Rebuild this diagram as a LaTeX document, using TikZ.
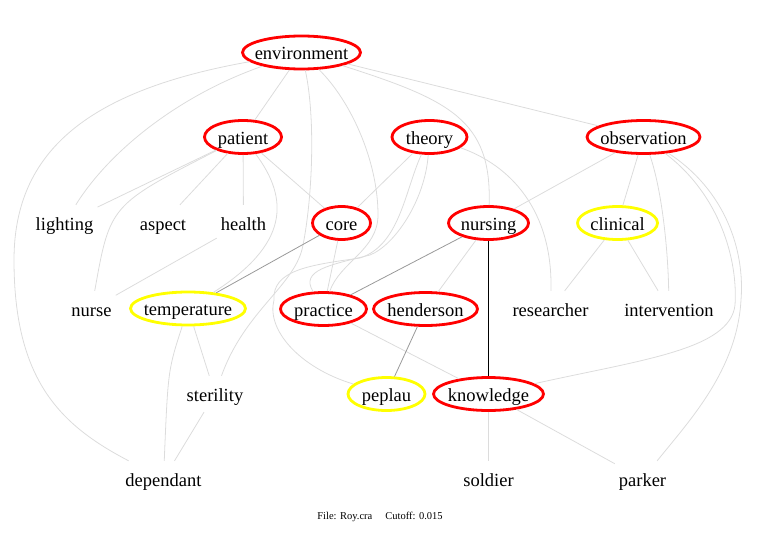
\documentclass[tikz,border=0pt]{standalone}
\usepackage{fontspec}
\setmainfont{Liberation Serif}
\usetikzlibrary{shapes.geometric}
\definecolor{lg}{HTML}{DCDCDC}
\definecolor{dg}{HTML}{999999}
\definecolor{gvred}{HTML}{FF0000}
\definecolor{gvyel}{HTML}{FFFF00}
\newcommand{\lbl}[1]{\makebox[0pt]{#1}}
\begin{document}
\begin{tikzpicture}[x=1pt,y=-1pt,
  every node/.style={font=\fontsize{18.5}{20}\selectfont, text height=16pt, text depth=2pt, inner sep=0pt},
  ov/.style={ellipse, line width=2.8pt, minimum height=33pt},
  rn/.style={ov, draw=gvred},
  yn/.style={ov, draw=gvyel},
  pn/.style={rectangle, minimum height=36pt, inner xsep=4pt},
  ledge/.style={draw=lg, line width=0.8pt},
  dedge/.style={draw=dg, line width=0.8pt},
  bedge/.style={draw=black, line width=1pt}]
\useasboundingbox (0,0) rectangle (759,532);
% nodes
\node[rn, minimum width=118pt] (env) at (301.5,52.5) {\lbl{environment}};
\node[rn, minimum width=77pt] (pat) at (243,137) {\lbl{patient}};
\node[rn, minimum width=75pt] (theo) at (429.5,137) {\lbl{theory}};
\node[rn, minimum width=113pt] (obs) at (643.5,137) {\lbl{observation}};
\node[pn] (light) at (64.5,223) {lighting};
\node[pn] (asp) at (163,223) {aspect};
\node[pn] (hlth) at (243.5,223) {health};
\node[rn, minimum width=58pt] (core) at (341.5,223) {\lbl{core}};
\node[rn, minimum width=80pt] (nurs) at (488.5,223) {\lbl{nursing}};
\node[yn, minimum width=80pt] (clin) at (617.5,223) {\lbl{clinical}};
\node[pn] (nurse) at (91.5,309) {nurse};
\node[yn, minimum width=115pt] (temp) at (188,308.5) {\lbl{temperature}};
\node[rn, minimum width=86pt] (prac) at (323.5,309) {\lbl{practice}};
\node[rn, minimum width=104pt] (hend) at (425.5,309) {\lbl{henderson}};
\node[pn] (resr) at (550.5,309) {researcher};
\node[pn] (intv) at (669,309) {intervention};
\node[pn] (ster) at (215,394) {sterility};
\node[yn, minimum width=77pt] (pep) at (386.5,394) {\lbl{peplau}};
\node[rn, minimum width=110pt] (know) at (488.5,394) {\lbl{knowledge}};
\node[pn] (dep) at (163.5,479) {dependant};
\node[pn] (sold) at (488.5,479) {soldier};
\node[pn] (park) at (642.5,479) {parker};
\node[font=\fontsize{10.5}{12}\selectfont, text height=7pt, text depth=2pt] (cap) at (380,517) {File: Roy.cra\hspace{13pt}Cutoff: 0.015};
% edges from environment
\draw[ledge] (env) .. controls (90,90) and (14,150) .. (14,260) .. controls (14,380) and (60,425) .. (dep);
\draw[ledge] (env) .. controls (180,95) and (110,150) .. (light);
\draw[ledge] (env) -- (pat);
\draw[ledge] (env) .. controls (316,120) and (312,200) .. (303,245) .. controls (296,285) and (245,310) .. (ster);
\draw[ledge] (env) .. controls (350,100) and (378,160) .. (378,215) .. controls (378,250) and (340,262) .. (prac);
\draw[ledge] (env) .. controls (450,100) and (492,120) .. (nurs);
\draw[ledge] (env) -- (obs);
% patient
\draw[ledge] (pat) -- (light);
\draw[ledge] (pat) .. controls (110,205) .. (nurse);
\draw[ledge] (pat) -- (asp);
\draw[ledge] (pat) -- (hlth);
\draw[ledge] (pat) -- (core);
\draw[ledge] (pat) .. controls (290,200) and (288,245) .. (temp);
% theory
\draw[ledge] (theo) -- (core);
\draw[ledge] (theo) .. controls (510,165) and (553,210) .. (resr);
\draw[ledge] (theo) .. controls (405,190) and (400,245) .. (360,258) .. controls (310,265) and (272,270) .. (274,300) .. controls (266,330) and (300,368) .. (pep);
\draw[ledge] (theo) .. controls (425,200) and (395,245) .. (370,255) .. controls (330,265) and (300,270) .. (prac);
% observation
\draw[ledge] (obs) -- (nurs);
\draw[ledge] (obs) -- (clin);
\draw[ledge] (obs) .. controls (662,190) and (668,250) .. (intv);
\draw[ledge] (obs) .. controls (720,195) and (738,260) .. (735,305) .. controls (730,350) and (640,360) .. (know);
\draw[ledge] (obs) .. controls (725,190) and (745,250) .. (741,300) .. controls (737,370) and (690,420) .. (park);
% rank 2
\draw[ledge] (hlth) -- (nurse);
\draw[dedge] (core) -- (temp);
\draw[ledge] (core) -- (prac);
\draw[dedge] (nurs) -- (prac);
\draw[ledge] (nurs) -- (hend);
\draw[bedge] (nurs) -- (know);
\draw[ledge] (clin) -- (resr);
\draw[ledge] (clin) -- (intv);
% rank 3
\draw[ledge] (temp) -- (ster);
\draw[ledge] (temp) .. controls (168,370) .. (dep);
\draw[ledge] (prac) -- (know);
\draw[dedge] (hend) -- (pep);
% rank 4
\draw[ledge] (ster) -- (dep);
\draw[ledge] (know) -- (sold);
\draw[ledge] (know) -- (park);
\end{tikzpicture}
\end{document}
